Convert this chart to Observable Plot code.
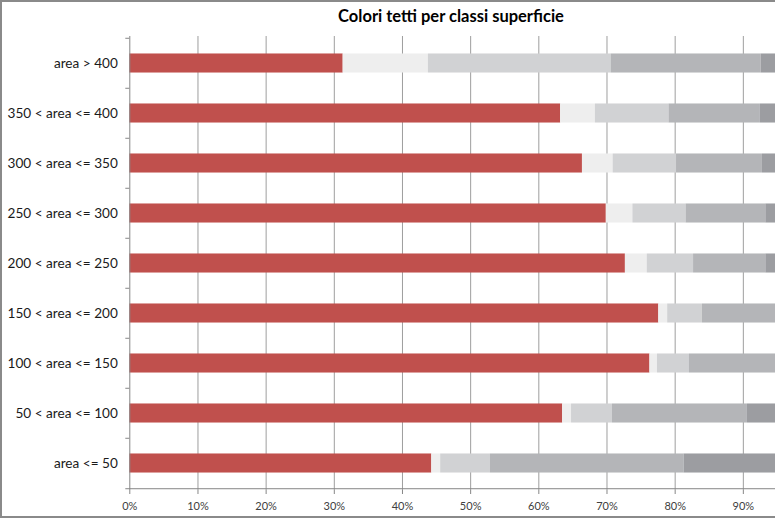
<!DOCTYPE html>
<html>
<head>
<meta charset="utf-8">
<script src="https://cdn.jsdelivr.net/npm/d3@7"></script>
<script src="https://cdn.jsdelivr.net/npm/@observablehq/plot@0.6"></script>
<style>
  html, body { margin: 0; padding: 0; background: #fff; }
  #wrap { position: relative; width: 775px; height: 519px; overflow: hidden; background: #fff; }
  #title { position: absolute; top: 6px; left: 451px; transform: translateX(-50%); white-space: nowrap;
           font-family: Lato, sans-serif; font-weight: bold; font-size: 16.5px; color: #000; }
  #border { position: absolute; left: 0; top: 0; width: 820px; height: 518px; box-sizing: border-box;
            border: 2px solid #8a8a8a; pointer-events: none; }
</style>
</head>
<body>
<div id="wrap">
  <div id="chart"></div>
  <div id="title">Colori tetti per classi superficie</div>
  <div id="border"></div>
</div>
<script>
const categories = [
  "area > 400",
  "350 < area <= 400",
  "300 < area <= 350",
  "250 < area <= 300",
  "200 < area <= 250",
  "150 < area <= 200",
  "100 < area <= 150",
  "50 < area <= 100",
  "area <= 50"
];
const series = ["rosso", "bianco", "grigio chiaro", "grigio", "grigio scuro"];
const colors = ["#c0504d", "#eeeeee", "#d1d2d4", "#b4b5b8", "#9c9da1"];
// percentage shares per category (top to bottom), one array per series
const rosso        = [31.3, 63.2, 66.4, 69.9, 72.7, 77.6, 76.3, 63.5, 44.3];
const bianco       = [12.5,  5.1,  4.5,  3.9,  3.2,  1.3,  1.1,  1.3,  1.3];
const grigioChiaro = [26.8, 10.8,  9.3,  7.8,  6.8,  5.1,  4.7,  6.0,  7.3];
const grigio       = [22.0, 13.4, 12.6, 11.7, 10.6, 12.0, 14.0, 19.8, 28.4];
const grigioScuro  = [ 7.4,  7.5,  7.2,  6.7,  6.7,  4.0,  3.9,  9.4, 18.7];
// visible tick labels (100% lies beyond the cropped right edge)
const xTicks = [0, 0.1, 0.2, 0.3, 0.4, 0.5, 0.6, 0.7, 0.8, 0.9];

const seriesValues = [rosso, bianco, grigioChiaro, grigio, grigioScuro];
const data = [];
categories.forEach((c, i) => {
  series.forEach((s, j) => data.push({category: c, series: s, value: seriesValues[j][i] / 100}));
});

const W = 775, H = 519, mTop = 36, mBottom = 29, x0 = 129.3, x100 = 811;
const band = (H - mTop - mBottom) / categories.length;
const half = band / 2;
const inset = (band - 19.5) / 2;
const tickLen = 4 / (x100 - x0);

const plot = Plot.plot({
  width: W,
  height: H,
  marginTop: mTop,
  marginBottom: mBottom,
  marginLeft: x0,
  marginRight: 0,
  style: {fontFamily: "Lato, sans-serif", background: "transparent", overflow: "hidden"},
  x: {domain: [0, 1], range: [x0, x100]},
  y: {domain: categories, padding: 0},
  color: {domain: series, range: colors},
  marks: [
    Plot.ruleX(xTicks.slice(1), {stroke: "#9e9e9e", strokeWidth: 1}),
    Plot.barX(data, Plot.stackX({y: "category", x: "value", fill: "series", insetTop: inset, insetBottom: inset})),
    Plot.ruleX([0], {stroke: "#868686", strokeWidth: 1}),
    Plot.ruleY(categories, {y: d => d, dy: -half, x1: -tickLen, x2: 0, stroke: "#868686"}),
    Plot.ruleY(categories.slice(-1), {y: d => d, dy: half, x1: -tickLen, x2: 1.05, stroke: "#868686"}),
    Plot.axisY({tickSize: 0, tickPadding: 12, fontSize: 13.6, color: "#1a1a1a", label: null}),
    Plot.axisX({ticks: xTicks, tickSize: 4, tickPadding: 8, fontSize: 11, color: "#404040",
                stroke: "#868686", tickFormat: d3.format(".0%"), label: null})
  ]
});
document.getElementById("chart").appendChild(plot);
</script>
</body>
</html>
